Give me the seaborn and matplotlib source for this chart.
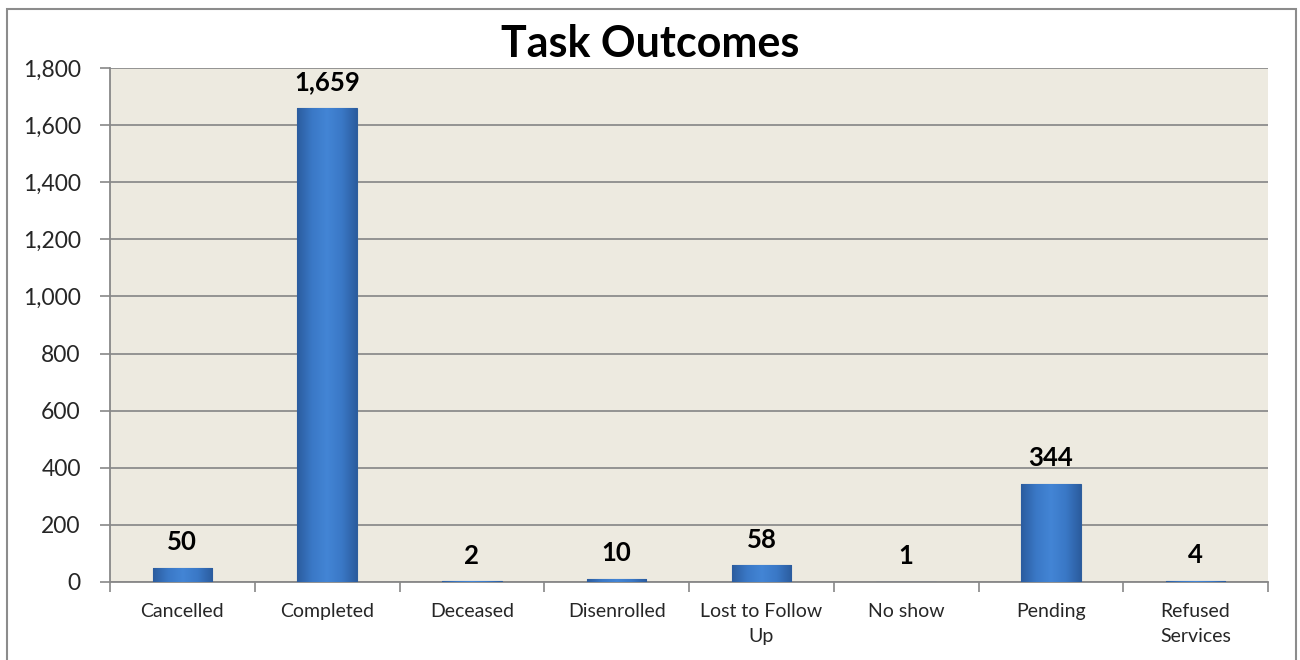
import numpy as np
import pandas as pd
import matplotlib
matplotlib.use("Agg")
import matplotlib.pyplot as plt
import seaborn as sns
from matplotlib.colors import LinearSegmentedColormap
from matplotlib.patches import Rectangle

categories = ["Cancelled", "Completed", "Deceased", "Disenrolled",
              "Lost to Follow\nUp", "No show", "Pending", "Refused\nServices"]
counts = [50, 1659, 2, 10, 58, 1, 344, 4]
y_ticks = [0, 200, 400, 600, 800, 1000, 1200, 1400, 1600, 1800]

df = pd.DataFrame({"outcome": categories, "count": counts})

sns.set_theme(style="white")
plt.rcParams["font.family"] = ["Lato", "DejaVu Sans"]

fig = plt.figure(figsize=(13, 6.6), dpi=100)
ax = fig.add_axes([110 / 1300, 1 - 582 / 660, (1268 - 110) / 1300, (582 - 68) / 660])
ax.set_facecolor("#EDEAE0")

sns.barplot(data=df, x="outcome", y="count", color="#3E7CC9", width=0.41,
            ax=ax, zorder=3, saturation=1)

# shaded bevel on each bar
cmap = LinearSegmentedColormap.from_list(
    "bevel", ["#2B5C9E", "#3A78C6", "#4385D5", "#3A78C6", "#2B5C9E"])
grad = np.linspace(0, 1, 256).reshape(1, -1)
for patch in ax.patches:
    x0, y0 = patch.get_x(), patch.get_y()
    w, h = patch.get_width(), patch.get_height()
    if h <= 0:
        continue
    im = ax.imshow(grad, cmap=cmap, aspect="auto", zorder=4,
                   extent=[x0, x0 + w, y0, y0 + h], interpolation="bicubic")
    im.set_clip_path(patch)
    patch.set_edgecolor("#2E5E9C")
    patch.set_linewidth(0.8)

for i, v in enumerate(counts):
    ax.annotate(f"{v:,}", xy=(i, v), xytext=(0, 10), textcoords="offset points",
                ha="center", va="bottom", fontsize=18.5, fontweight="bold",
                color="black", zorder=6)

ax.set_xlim(-0.5, len(categories) - 0.5)
ax.set_ylim(0, 1800)
ax.set_yticks(y_ticks)
ax.set_yticklabels([f"{t:,}" for t in y_ticks], fontsize=16.5)
ax.set_xticks(range(len(categories)))
ax.set_xticklabels(categories, fontsize=14, linespacing=1.6)
ax.tick_params(axis="x", length=0, pad=15)
ax.tick_params(axis="y", length=7, width=1.2, color="#888888", left=True, pad=14)

# category separators on the x axis
ax.set_xticks(np.arange(-0.5, len(categories), 1), minor=True)
ax.tick_params(axis="x", which="minor", length=7, width=1.2, color="#888888", bottom=True)

ax.yaxis.grid(True, color="#8C8C8C", linewidth=1.3, zorder=0)
ax.xaxis.grid(False)
ax.set_axisbelow(True)
for side in ["top", "right"]:
    ax.spines[side].set_visible(False)
for side in ["left", "bottom"]:
    ax.spines[side].set_color("#888888")
    ax.spines[side].set_linewidth(1.3)

ax.set_xlabel("")
ax.set_ylabel("")
fig.text(0.5, 1 - 44 / 660, "Task Outcomes", ha="center", va="center",
         fontsize=31, fontweight="bold", color="black")

fig.add_artist(Rectangle((7 / 1300, -0.01), (1296 - 7) / 1300, 1 - 9 / 660 + 0.01,
                         transform=fig.transFigure, fill=False,
                         edgecolor="#8C8C8C", linewidth=1.5))

fig.savefig("out.png", dpi=100, facecolor="white")
